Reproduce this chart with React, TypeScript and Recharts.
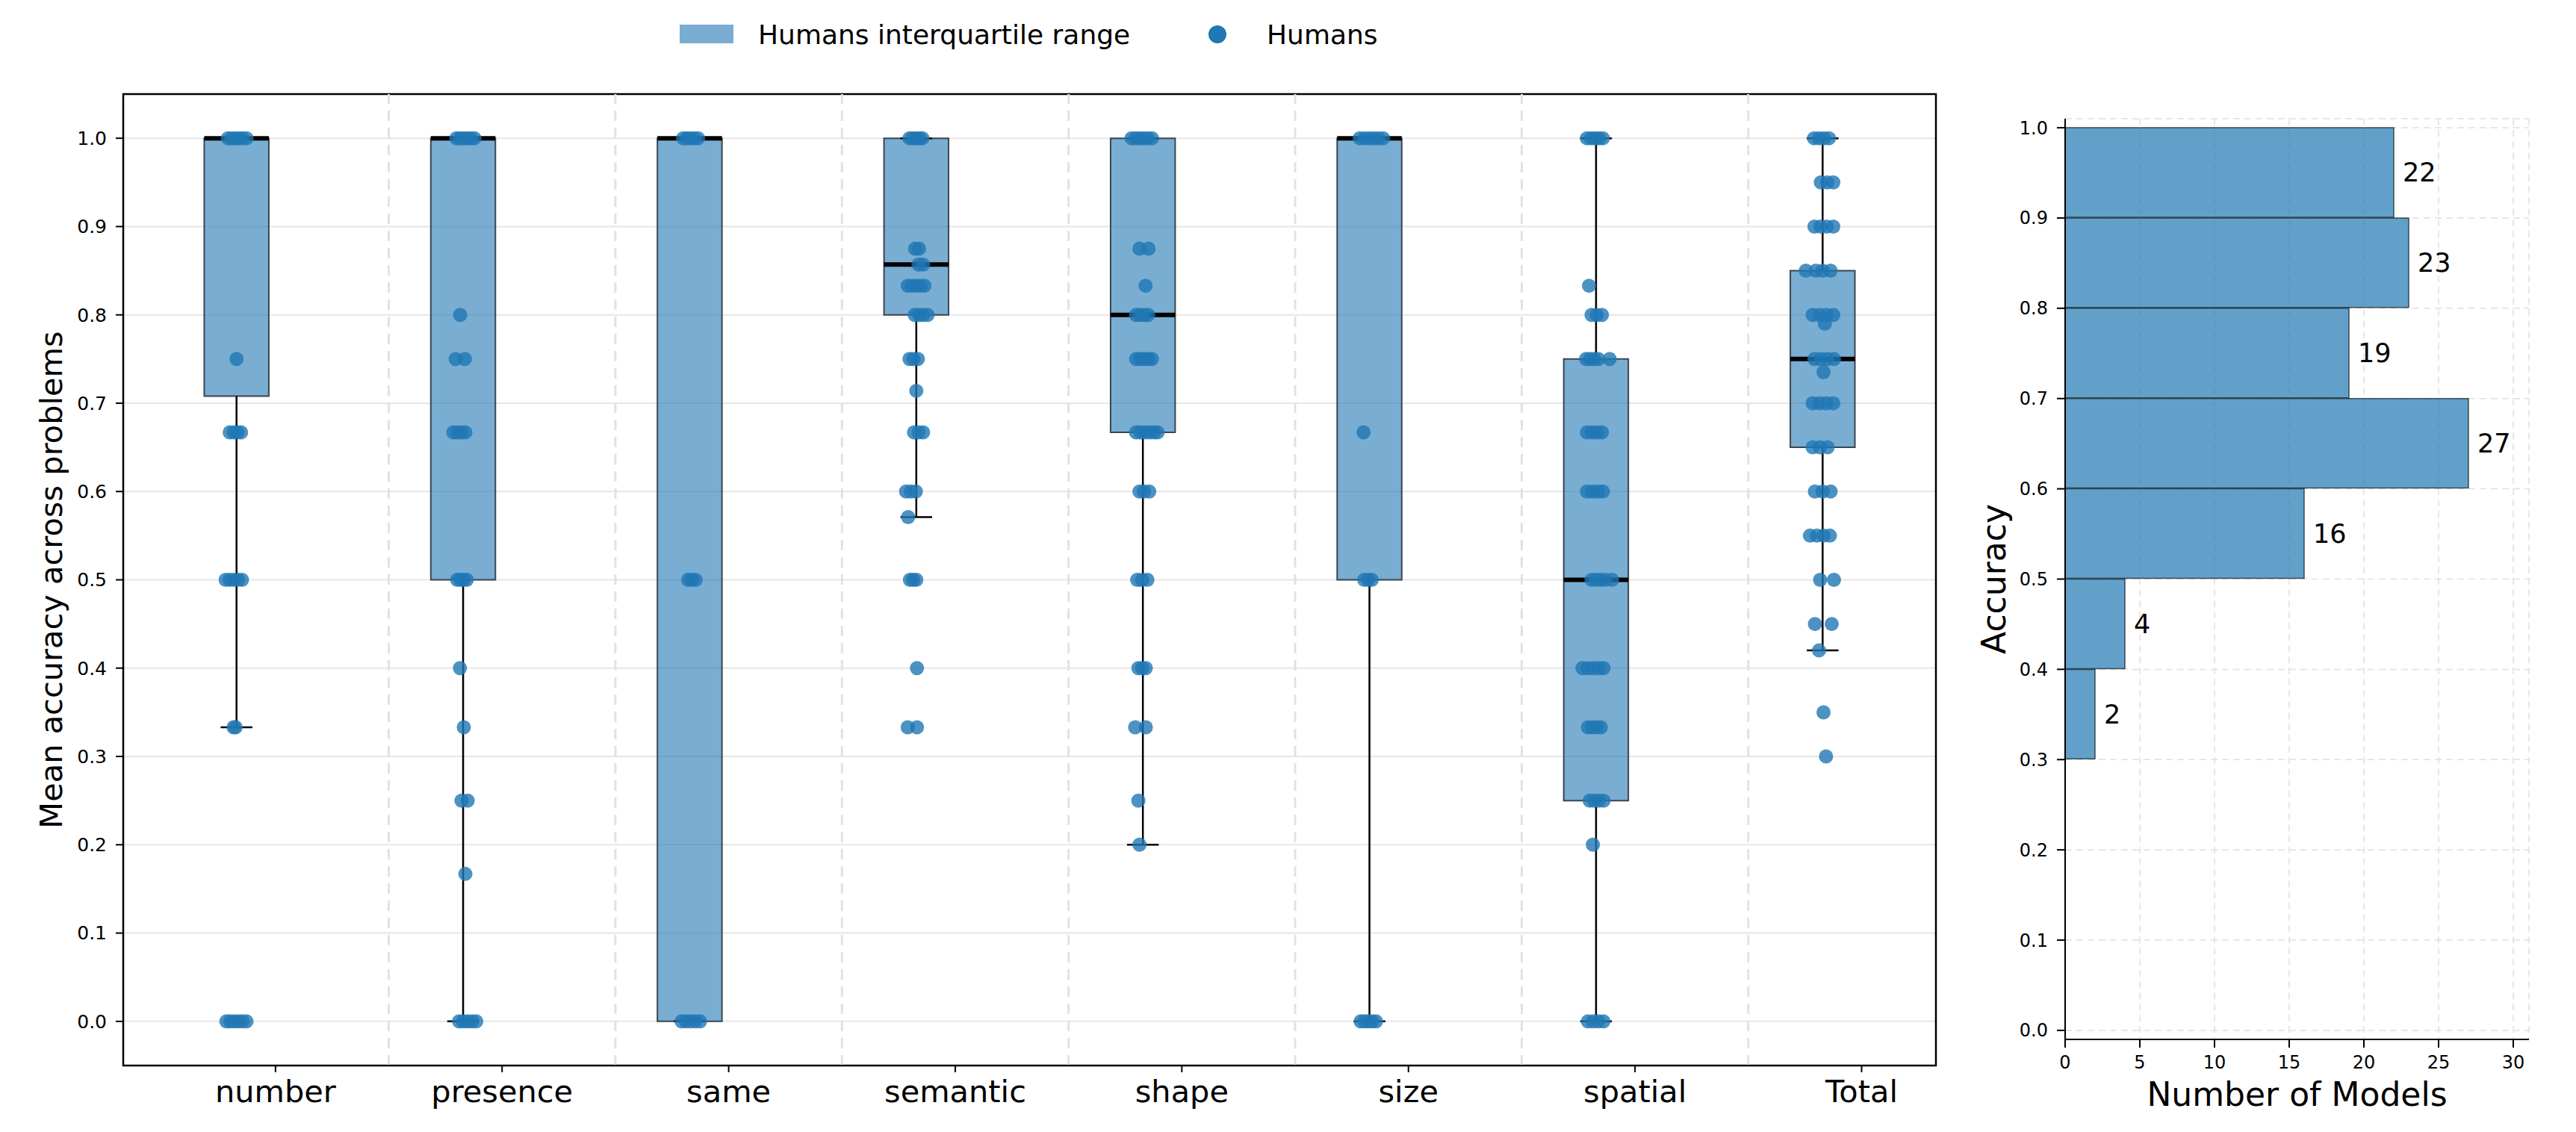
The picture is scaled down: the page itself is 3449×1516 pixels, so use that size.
import {
  ComposedChart,
  XAxis,
  YAxis,
  CartesianGrid,
  Scatter,
  Bar,
  LabelList,
  Label,
  ReferenceArea,
  ReferenceLine,
} from "recharts";

// ---- left panel: human accuracy per problem type ----
const categories = ["number", "presence", "same", "semantic", "shape", "size", "spatial", "Total"];
const q1 = [0.708, 0.5, 0.0, 0.8, 0.667, 0.5, 0.25, 0.65];
const q3 = [1.0, 1.0, 1.0, 1.0, 1.0, 1.0, 0.75, 0.85];
const medians = [1.0, 1.0, 1.0, 0.857, 0.8, 1.0, 0.5, 0.75];
const whiskerLow = [0.333, 0.0, 0.0, 0.571, 0.2, 0.0, 0.0, 0.42];
const whiskerHigh = [1.0, 1.0, 1.0, 1.0, 1.0, 1.0, 1.0, 1.0];

// [accuracy, horizontal jitter] for each human
const numberPts = [
  [1, -0.038], [1, -0.022], [1, -0.006], [1, 0.01], [1, 0.026], [1, 0.044],
  [0.75, 0],
  [0.667, -0.03], [0.667, -0.012], [0.667, 0.004], [0.667, 0.02],
  [0.5, -0.048], [0.5, -0.03], [0.5, -0.012], [0.5, 0.006], [0.5, 0.024],
  [0.333, -0.013], [0.333, -0.004],
  [0, -0.045], [0, -0.028], [0, -0.01], [0, 0.008], [0, 0.026], [0, 0.044],
];
const presencePts = [
  [1, -0.03], [1, -0.014], [1, 0.002], [1, 0.018], [1, 0.034], [1, 0.05],
  [0.8, -0.013],
  [0.75, -0.033], [0.75, 0.008],
  [0.667, -0.043], [0.667, -0.025], [0.667, -0.008], [0.667, 0.01],
  [0.5, -0.026], [0.5, -0.012], [0.5, 0.002], [0.5, 0.016],
  [0.4, -0.014],
  [0.333, 0.003],
  [0.25, -0.007], [0.25, 0.02],
  [0.167, 0.01],
  [0, -0.018], [0, 0], [0, 0.02], [0, 0.04], [0, 0.058],
];
const samePts = [
  [1, -0.029], [1, -0.013], [1, 0.003], [1, 0.02], [1, 0.037],
  [0.5, -0.007], [0.5, 0.01], [0.5, 0.026],
  [0, -0.036], [0, -0.016], [0, 0.004], [0, 0.025], [0, 0.046],
];
const semanticPts = [
  [1, -0.03], [1, -0.015], [1, 0], [1, 0.014], [1, 0.027],
  [0.875, -0.005], [0.875, 0.012],
  [0.857, 0.01], [0.857, 0.03],
  [0.833, -0.038], [0.833, -0.02], [0.833, 0], [0.833, 0.018], [0.833, 0.036],
  [0.8, -0.007], [0.8, 0.012], [0.8, 0.03], [0.8, 0.05],
  [0.75, -0.03], [0.75, -0.012], [0.75, 0.007],
  [0.714, 0],
  [0.667, -0.01], [0.667, 0.01], [0.667, 0.03],
  [0.6, -0.045], [0.6, -0.024], [0.6, -0.002],
  [0.571, -0.036],
  [0.5, -0.028], [0.5, -0.014], [0.5, 0],
  [0.4, 0.003],
  [0.333, -0.038], [0.333, 0.003],
];
const shapePts = [
  [1, -0.05], [1, -0.032], [1, -0.014], [1, 0.004], [1, 0.022], [1, 0.04],
  [0.875, -0.015], [0.875, 0.025],
  [0.833, 0.012],
  [0.8, -0.03], [0.8, -0.012], [0.8, 0.006], [0.8, 0.023],
  [0.75, -0.03], [0.75, -0.012], [0.75, 0.006], [0.75, 0.024], [0.75, 0.04],
  [0.667, -0.03], [0.667, -0.01], [0.667, 0.01], [0.667, 0.03], [0.667, 0.05], [0.667, 0.065],
  [0.6, -0.015], [0.6, 0.005], [0.6, 0.028],
  [0.5, -0.025], [0.5, -0.003], [0.5, 0.02],
  [0.4, -0.02], [0.4, -0.003], [0.4, 0.013],
  [0.333, -0.034], [0.333, 0.013],
  [0.25, -0.02],
  [0.2, -0.015],
];
const sizePts = [
  [1, -0.043], [1, -0.022], [1, 0], [1, 0.02], [1, 0.04], [1, 0.06],
  [0.667, -0.026],
  [0.5, -0.023], [0.5, -0.006], [0.5, 0.01],
  [0, -0.039], [0, -0.022], [0, -0.005], [0, 0.012], [0, 0.029],
];
const spatialPts = [
  [1, -0.04], [1, -0.022], [1, -0.005], [1, 0.013], [1, 0.03],
  [0.833, -0.031],
  [0.8, -0.02], [0.8, 0.003], [0.8, 0.026],
  [0.75, -0.044], [0.75, -0.026], [0.75, -0.008], [0.75, 0.01], [0.75, 0.06],
  [0.667, -0.04], [0.667, -0.018], [0.667, 0.004], [0.667, 0.026],
  [0.6, -0.04], [0.6, -0.016], [0.6, 0.008], [0.6, 0.03],
  [0.5, -0.02], [0.5, 0], [0.5, 0.02], [0.5, 0.04], [0.5, 0.07],
  [0.4, -0.06], [0.4, -0.036], [0.4, -0.012], [0.4, 0.012], [0.4, 0.033],
  [0.333, -0.036], [0.333, -0.017], [0.333, 0.002], [0.333, 0.021],
  [0.25, -0.028], [0.25, -0.008], [0.25, 0.012], [0.25, 0.033],
  [0.2, -0.014],
  [0, -0.036], [0, -0.013], [0, 0.01], [0, 0.033],
];
const totalPts = [
  [1, -0.038], [1, -0.016], [1, 0.006], [1, 0.028],
  [0.95, -0.008], [0.95, 0.02], [0.95, 0.047],
  [0.9, -0.036], [0.9, -0.009], [0.9, 0.018], [0.9, 0.047],
  [0.85, -0.074], [0.85, -0.03], [0.85, 0], [0.85, 0.035],
  [0.8, -0.044], [0.8, -0.014], [0.8, 0.016], [0.8, 0.047],
  [0.79, 0.01],
  [0.75, -0.036], [0.75, -0.008], [0.75, 0.02], [0.75, 0.05],
  [0.735, 0.004],
  [0.7, -0.044], [0.7, -0.014], [0.7, 0.016], [0.7, 0.047],
  [0.65, -0.044], [0.65, -0.012], [0.65, 0.022],
  [0.6, -0.034], [0.6, 0], [0.6, 0.035],
  [0.55, -0.056], [0.55, -0.026], [0.55, 0.004], [0.55, 0.032],
  [0.5, -0.011], [0.5, 0.05],
  [0.45, -0.034], [0.45, 0.04],
  [0.42, -0.016],
  [0.35, 0.004],
  [0.3, 0.015],
];
const humanPoints = [numberPts, presencePts, samePts, semanticPts, shapePts, sizePts, spatialPts, totalPts];

// ---- right panel: histogram of model accuracy ----
const binLow = [0.3, 0.4, 0.5, 0.6, 0.7, 0.8, 0.9];
const binHigh = [0.4, 0.5, 0.6, 0.7, 0.8, 0.9, 1.0];
const modelCounts = [2, 4, 16, 27, 19, 23, 22];

const accTicks = [0, 0.1, 0.2, 0.3, 0.4, 0.5, 0.6, 0.7, 0.8, 0.9, 1.0];
const countTicks = [0, 5, 10, 15, 20, 25, 30];

const FONT = "DejaVu Sans, sans-serif";
const BLUE = "#1f77b4";
const BOX_SHIFT = 0.172; // boxes sit left of the category tick
const BOX_W = 0.285;
const CAP_W = 0.14;

// histogram plot height / y span -> pixel height of one 0.1 bin
const HIST_TOP = 159;
const HIST_BOTTOM = 1392;
const BIN_PX = ((HIST_BOTTOM - HIST_TOP) / 1.02) * 0.1;

function BoxPanel() {
  const points = humanPoints.flatMap((list, i) =>
    list.map(([acc, jit]) => ({ x: i - BOX_SHIFT + jit, y: acc }))
  );
  const xDomain = [-0.5 - BOX_SHIFT, categories.length - 0.5 - BOX_SHIFT];

  return (
    <ComposedChart
      width={2620}
      height={1516}
      margin={{ top: 126, right: 28, bottom: 29, left: 45 }}
    >
      <CartesianGrid vertical={false} stroke="#e6e6e6" strokeWidth={2} />
      <XAxis
        type="number"
        dataKey="x"
        domain={xDomain}
        ticks={categories.map((_, i) => i)}
        tickFormatter={(v) => categories[v]}
        allowDataOverflow
        interval={0}
        height={60}
        tickSize={9}
        tickMargin={11}
        tick={{ fontSize: 41.5, fill: "#000", fontFamily: FONT }}
        axisLine={{ stroke: "#000", strokeWidth: 2 }}
        tickLine={{ stroke: "#000", strokeWidth: 2 }}
      />
      <YAxis
        type="number"
        dataKey="y"
        domain={[-0.05, 1.05]}
        ticks={accTicks}
        tickFormatter={(v) => v.toFixed(1)}
        allowDataOverflow
        width={120}
        tickSize={10}
        tickMargin={12}
        tick={{ fontSize: 25, fill: "#000", fontFamily: FONT }}
        axisLine={{ stroke: "#000", strokeWidth: 2 }}
        tickLine={{ stroke: "#000", strokeWidth: 2 }}
      >
        <Label
          value="Mean accuracy across problems"
          angle={-90}
          position="insideLeft"
          offset={23}
          style={{ textAnchor: "middle", fontSize: 41.5, fill: "#000", fontFamily: FONT }}
        />
      </YAxis>

      {categories.slice(0, -1).map((c, i) => (
        <ReferenceLine
          key={"sep-" + c}
          x={i + 0.5}
          stroke="#e2e2e2"
          strokeWidth={3}
          strokeDasharray="14 9"
        />
      ))}

      {categories.map((c, i) => {
        const pos = i - BOX_SHIFT;
        return (
          <ReferenceArea
            key={"box-" + c}
            x1={pos - BOX_W / 2}
            x2={pos + BOX_W / 2}
            y1={q1[i]}
            y2={q3[i]}
            fill={BLUE}
            fillOpacity={0.6}
            stroke="#3b4650"
            strokeWidth={2}
            strokeOpacity={1}
          />
        );
      })}

      {categories.map((c, i) => {
        const pos = i - BOX_SHIFT;
        return [
          <ReferenceLine
            key={"wl-" + c}
            segment={[{ x: pos, y: whiskerLow[i] }, { x: pos, y: q1[i] }]}
            stroke="#000"
            strokeWidth={2.5}
          />,
          <ReferenceLine
            key={"wh-" + c}
            segment={[{ x: pos, y: q3[i] }, { x: pos, y: whiskerHigh[i] }]}
            stroke="#000"
            strokeWidth={2.5}
          />,
          <ReferenceLine
            key={"cl-" + c}
            segment={[{ x: pos - CAP_W / 2, y: whiskerLow[i] }, { x: pos + CAP_W / 2, y: whiskerLow[i] }]}
            stroke="#000"
            strokeWidth={2.5}
          />,
          <ReferenceLine
            key={"ch-" + c}
            segment={[{ x: pos - CAP_W / 2, y: whiskerHigh[i] }, { x: pos + CAP_W / 2, y: whiskerHigh[i] }]}
            stroke="#000"
            strokeWidth={2.5}
          />,
          <ReferenceLine
            key={"md-" + c}
            segment={[{ x: pos - BOX_W / 2, y: medians[i] }, { x: pos + BOX_W / 2, y: medians[i] }]}
            stroke="#000"
            strokeWidth={6}
          />,
        ];
      })}

      <Scatter
        data={points}
        dataKey="y"
        isAnimationActive={false}
        shape={(p: any) => (
          <circle cx={p.cx} cy={p.cy} r={9.5} fill={BLUE} fillOpacity={0.8} />
        )}
      />

      {/* frame around the plot area */}
      <ReferenceArea
        x1={xDomain[0]}
        x2={xDomain[1]}
        y1={-0.05}
        y2={1.05}
        fill="none"
        stroke="#000"
        strokeWidth={2.5}
        fillOpacity={0}
      />
    </ComposedChart>
  );
}

function HistPanel() {
  const histData = modelCounts.map((count, i) => ({
    mid: (binLow[i] + binHigh[i]) / 2,
    count,
  }));

  return (
    <ComposedChart
      layout="vertical"
      width={849}
      height={1516}
      data={histData}
      margin={{ top: HIST_TOP, right: 63, bottom: 1516 - HIST_BOTTOM - 100, left: 55 }}
    >
      <CartesianGrid stroke="#e0e0e0" strokeWidth={1.5} strokeDasharray="9 6" />
      <XAxis
        type="number"
        domain={[0, 31.05]}
        ticks={countTicks}
        allowDataOverflow
        interval={0}
        height={100}
        tickSize={11}
        tickMargin={11}
        tick={{ fontSize: 24, fill: "#000", fontFamily: FONT }}
        axisLine={{ stroke: "#000", strokeWidth: 2 }}
        tickLine={{ stroke: "#000", strokeWidth: 2 }}
      >
        <Label
          value="Number of Models"
          position="insideBottom"
          offset={11}
          style={{ fontSize: 44, fill: "#000", fontFamily: FONT }}
        />
      </XAxis>
      <YAxis
        type="number"
        dataKey="mid"
        domain={[-0.01, 1.01]}
        reversed
        ticks={accTicks}
        tickFormatter={(v) => v.toFixed(1)}
        allowDataOverflow
        interval={0}
        width={110}
        tickSize={11}
        tickMargin={12}
        tick={{ fontSize: 24, fill: "#000", fontFamily: FONT }}
        axisLine={{ stroke: "#000", strokeWidth: 2 }}
        tickLine={{ stroke: "#000", strokeWidth: 2 }}
      >
        <Label
          value="Accuracy"
          angle={-90}
          position="insideLeft"
          offset={14}
          style={{ textAnchor: "middle", fontSize: 44, fill: "#000", fontFamily: FONT }}
        />
      </YAxis>
      <Bar
        dataKey="count"
        barSize={BIN_PX - 1}
        fill={BLUE}
        fillOpacity={0.7}
        stroke="#1d2a33"
        strokeOpacity={0.8}
        strokeWidth={1.5}
        isAnimationActive={false}
      >
        <LabelList
          dataKey="count"
          position="right"
          offset={12}
          style={{ fontSize: 35, fill: "#000", fontFamily: FONT }}
        />
      </Bar>
    </ComposedChart>
  );
}

function LegendRow() {
  return (
    <svg
      width={3449}
      height={90}
      style={{ position: "absolute", left: 0, top: 0 }}
      fontFamily={FONT}
    >
      <rect x={910} y={33} width={72} height={25} fill={BLUE} fillOpacity={0.6} />
      <text x={1015} y={46} fontSize={36} dominantBaseline="central" fill="#000">
        Humans interquartile range
      </text>
      <circle cx={1630} cy={46} r={12} fill={BLUE} />
      <text x={1696} y={46} fontSize={36} dominantBaseline="central" fill="#000">
        Humans
      </text>
    </svg>
  );
}

export default function App() {
  return (
    <div
      style={{
        position: "absolute",
        left: 0,
        top: 0,
        width: 3449,
        height: 1516,
        background: "#fff",
        fontFamily: FONT,
      }}
    >
      <div style={{ position: "absolute", left: 0, top: 0 }}>
        <BoxPanel />
      </div>
      <div style={{ position: "absolute", left: 2600, top: 0 }}>
        <HistPanel />
      </div>
      <LegendRow />
    </div>
  );
}
